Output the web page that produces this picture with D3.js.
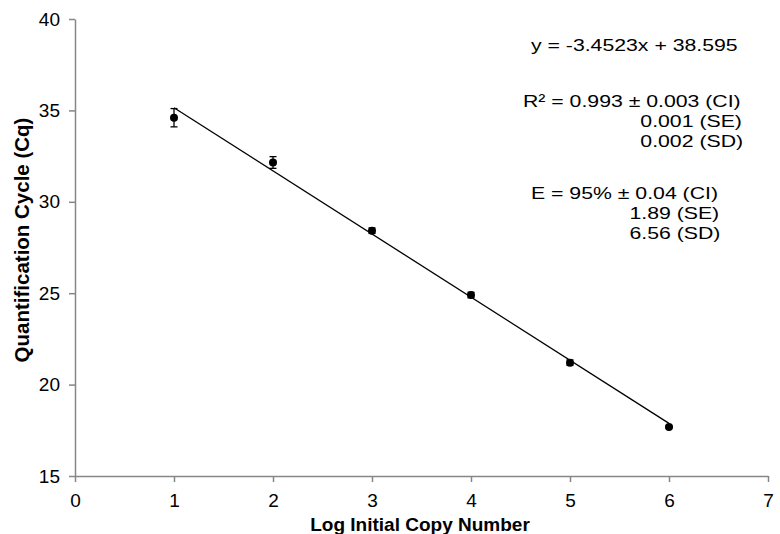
<!DOCTYPE html>
<html><head><meta charset="utf-8">
<script src="https://cdn.jsdelivr.net/npm/d3@7"></script>
<style>body{margin:0;background:#fff}svg{display:block}</style>
</head><body>
<script>
const logCopies = [1, 2, 3, 4, 5, 6];
const cqMeans   = [34.6, 32.15, 28.42, 24.9, 21.2, 17.68];
const cqErrors  = [0.5, 0.32, 0.15, 0.15, 0.15, 0.05];
const slope = -3.4523, intercept = 38.595;
const xTicks = [0,1,2,3,4,5,6,7];
const yTicks = [15,20,25,30,35,40];
const eqLine = "y = -3.4523x + 38.595";
const r2Prefix = "R² = 0.993 ± ";
const r2Lines = ["0.003 (CI)", "0.001 (SE)", "0.002 (SD)"];
const ePrefix = "E = 95% ± ";
const eLines  = ["0.04 (CI)", "1.89 (SE)", "6.56 (SD)"];

const W = 780, H = 534;
const svg = d3.select("body").append("svg").attr("width", W).attr("height", H);
const x = d3.scaleLinear().domain([0,7]).range([75,768]);
const y = d3.scaleLinear().domain([15,40]).range([476,19]);
const font = "Arial, 'Liberation Sans', sans-serif";
const axisCol = "#868686";

const xa = svg.append("g").attr("transform",`translate(0,${y(15)})`)
  .call(d3.axisBottom(x).tickValues(xTicks).tickFormat(d3.format("d")).tickSize(6).tickSizeOuter(0).tickPadding(12));
const ya = svg.append("g").attr("transform",`translate(${x(0)},0)`)
  .call(d3.axisLeft(y).tickValues(yTicks).tickFormat(d3.format("d")).tickSize(6).tickSizeOuter(0).tickPadding(9));
[xa, ya].forEach(g => {
  g.select(".domain").attr("stroke", axisCol).attr("stroke-width", 1.5);
  g.selectAll(".tick line").attr("stroke", axisCol).attr("stroke-width", 1.5);
  g.selectAll(".tick text").attr("fill", "#000").style("font-family", font).style("font-size", "19px");
});

// regression line
svg.append("line")
  .attr("x1", x(1)).attr("y1", y(slope*1+intercept))
  .attr("x2", x(6)).attr("y2", y(slope*6+intercept))
  .attr("stroke", "#000").attr("stroke-width", 1.3);

const pts = logCopies.map((d,i)=>({x:d, y:cqMeans[i], e:cqErrors[i]}));
const eb = svg.append("g").attr("stroke","#000").attr("stroke-width",1.3);
pts.forEach(p => {
  eb.append("line").attr("x1",x(p.x)).attr("x2",x(p.x)).attr("y1",y(p.y+p.e)).attr("y2",y(p.y-p.e));
  eb.append("line").attr("x1",x(p.x)-3.5).attr("x2",x(p.x)+3.5).attr("y1",y(p.y+p.e)).attr("y2",y(p.y+p.e));
  eb.append("line").attr("x1",x(p.x)-3.5).attr("x2",x(p.x)+3.5).attr("y1",y(p.y-p.e)).attr("y2",y(p.y-p.e));
});
svg.append("g").selectAll("circle").data(pts).join("circle")
  .attr("cx", d=>x(d.x)).attr("cy", d=>y(d.y)).attr("r", 4).attr("fill", "#000");

// annotation text (slightly wide glyphs as in the reference)
const SX = 1.25;
const ann = svg.append("g").style("font-family", font).style("font-size", "17px").attr("fill","#000");
function put(str, px, py) {
  return ann.append("text").attr("transform", `translate(${px},${py}) scale(${SX},1)`).text(str);
}
put(eqLine, 531, 51);
const r2 = put(r2Prefix, 523, 107);
const r2x = 523 + SX * r2.node().getComputedTextLength();
r2.append("tspan").text(r2Lines[0]);
put(r2Lines[1], r2x, 127);
put(r2Lines[2], r2x, 147);
const e = put(ePrefix, 531, 199);
const ex = 531 + SX * e.node().getComputedTextLength();
e.append("tspan").text(eLines[0]);
put(eLines[1], ex, 219);
put(eLines[2], ex, 239);

// axis titles
svg.append("text").attr("x", 420).attr("y", 531).attr("text-anchor","middle")
  .style("font-family", font).style("font-size","19px").style("font-weight","bold").text("Log Initial Copy Number");
svg.append("text").attr("transform", `translate(29,240) rotate(-90)`).attr("text-anchor","middle")
  .style("font-family", font).style("font-size","20.5px").style("font-weight","bold").text("Quantification Cycle (Cq)");
</script>
</body></html>
